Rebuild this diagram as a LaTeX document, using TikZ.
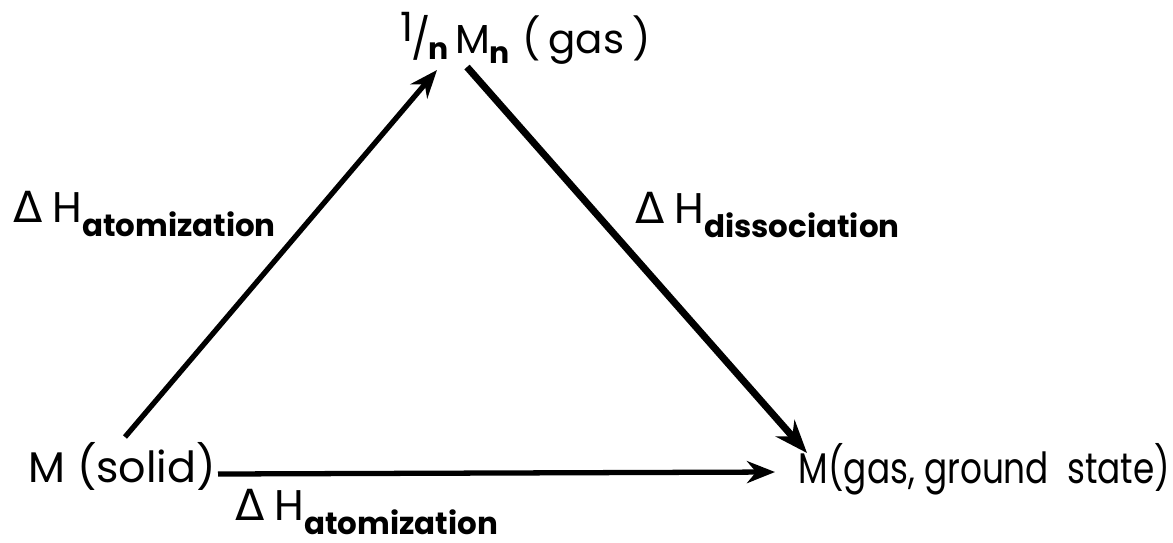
\documentclass[tikz,border=0pt]{standalone}
\usepackage{fontspec}
\setmainfont{Poppins}
\newfontfamily\dvfont{DejaVu Sans}
\usetikzlibrary{arrows.meta}
\newcommand\delt{{\dvfont\char"0394}\kern0.22em}
\newcommand\sbx[1]{\raisebox{-4pt}{\fontsize{8.8}{10}\selectfont\bfseries #1}}
\tikzset{
  lbl/.style={inner sep=0pt, anchor=base west, font=\fontsize{12.2}{14}\selectfont},
  arr/.style={line width=1.5pt, -{Stealth[length=0.28cm,width=0.22cm]}},
  heavy/.style={line width=2pt, -{Stealth[length=0.33cm,width=0.25cm]}},
}
\begin{document}
\begin{tikzpicture}
\useasboundingbox (0,0) rectangle (11.73,-5.42);
\node[lbl, font=\fontsize{11.5}{13}\selectfont] (top) at (4.00,-0.53) {\raisebox{0.5ex}{1}\kern-0.05em/\kern-0.05em\raisebox{-0.3ex}{\fontsize{8.5}{10}\selectfont\bfseries n}\kern0.15em M\raisebox{-3pt}{\fontsize{8.5}{10}\selectfont\bfseries n}\kern0.3em(\kern0.2em gas\kern0.2em)};
\node[lbl] (solid) at (0.28,-4.82) {M (solid)};
\node[lbl] (ground) at (7.98,-4.83) {\scalebox{0.80}[1]{M(gas, ground\ \ state)}};
\node[lbl] (la) at (0.13,-2.22) {\delt H\sbx{atomization}};
\node[lbl] (ld) at (6.35,-2.23) {\delt H\sbx{dissociation}};
\node[lbl] (lb) at (2.35,-5.20) {\delt H\sbx{atomization}};
\coordinate (s1) at (1.25,-4.37);
\coordinate (t1) at (4.37,-0.70);
\coordinate (t2) at (4.67,-0.67);
\coordinate (g1) at (8.07,-4.53);
\coordinate (s2) at (2.18,-4.74);
\coordinate (g2) at (7.75,-4.72);
\draw[arr] (s1) -- (t1);
\draw[heavy] (t2) -- (g1);
\draw[arr] (s2) -- (g2);
\end{tikzpicture}
\end{document}
